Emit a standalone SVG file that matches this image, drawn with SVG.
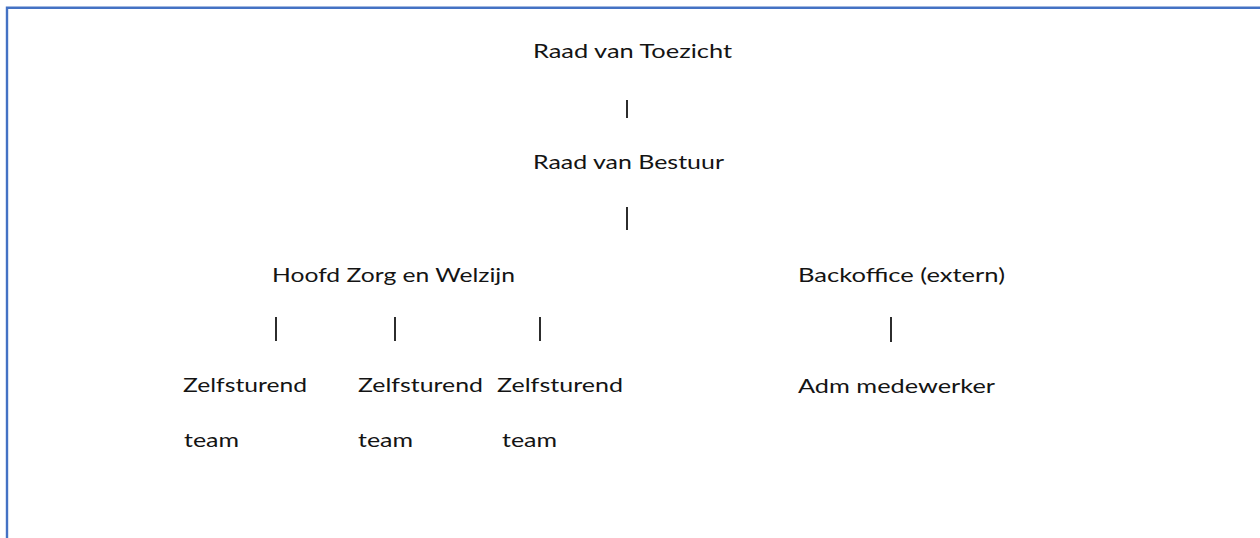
<svg xmlns="http://www.w3.org/2000/svg" width="1260" height="538" viewBox="0 0 1260 538">
<style>
  .t { font-family: Lato, "Liberation Sans", sans-serif; font-size: 20px; fill: #141414; }
  .bar { stroke: #222222; stroke-width: 1.9; fill: none; }
  .frame { stroke: #4472C4; stroke-width: 2.4; fill: none; }
</style>
<rect x="0" y="0" width="1260" height="538" fill="#ffffff"/>
<path class="frame" d="M7,538 V7.8 H1260"/>
<g id="connectors">
  <line class="bar" x1="627" y1="100" x2="627" y2="118"/>
  <line class="bar" x1="627" y1="207" x2="627" y2="230"/>
  <line class="bar" x1="276" y1="317" x2="276" y2="341"/>
  <line class="bar" x1="395" y1="317" x2="395" y2="341"/>
  <line class="bar" x1="540" y1="317" x2="540" y2="341"/>
  <line class="bar" x1="891" y1="317" x2="891" y2="342"/>
</g>
<g id="raad-van-toezicht"><text class="t" x="533" y="58" textLength="199" lengthAdjust="spacingAndGlyphs">Raad van Toezicht</text></g>
<g id="raad-van-bestuur"><text class="t" x="533" y="169" textLength="191" lengthAdjust="spacingAndGlyphs">Raad van Bestuur</text></g>
<g id="hoofd-zorg"><text class="t" x="272" y="282" textLength="243" lengthAdjust="spacingAndGlyphs">Hoofd Zorg en Welzijn</text></g>
<g id="backoffice"><text class="t" x="798" y="282" textLength="207" lengthAdjust="spacingAndGlyphs">Backoffice (extern)</text></g>
<g id="team1">
  <text class="t" x="183" y="392" textLength="124" lengthAdjust="spacingAndGlyphs">Zelfsturend</text>
  <text class="t" x="184" y="447" textLength="55" lengthAdjust="spacingAndGlyphs">team</text>
</g>
<g id="team2">
  <text class="t" x="358" y="392" textLength="125" lengthAdjust="spacingAndGlyphs">Zelfsturend</text>
  <text class="t" x="358" y="447" textLength="55" lengthAdjust="spacingAndGlyphs">team</text>
</g>
<g id="team3">
  <text class="t" x="497" y="392" textLength="126" lengthAdjust="spacingAndGlyphs">Zelfsturend</text>
  <text class="t" x="502" y="447" textLength="55" lengthAdjust="spacingAndGlyphs">team</text>
</g>
<g id="adm-medewerker"><text class="t" x="798" y="393" textLength="197" lengthAdjust="spacingAndGlyphs">Adm medewerker</text></g>
</svg>
